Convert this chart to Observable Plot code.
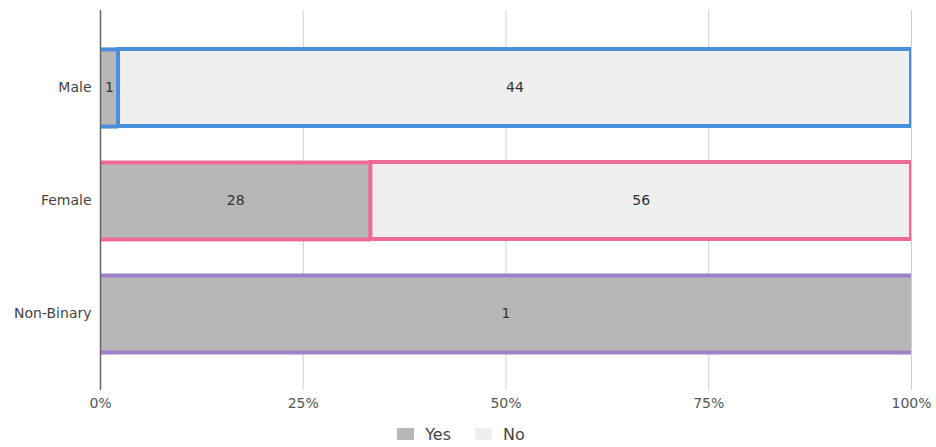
<!DOCTYPE html>
<html>
<head>
<meta charset="utf-8">
<script src="https://cdn.jsdelivr.net/npm/d3@7"></script>
<script src="https://cdn.jsdelivr.net/npm/@observablehq/plot@0.6"></script>
<style>
  body { margin: 0; background: #fff; font-family: "DejaVu Sans", sans-serif; }
  #chart svg { display: block; }
  .legend { display: flex; justify-content: center; gap: 24px; margin-top: 9px; padding-right: 14px;
            font-size: 16px; color: #444; height: 20px; align-items: center; }
  .legend span { display: inline-flex; align-items: center; gap: 11px; }
  .legend i { display: inline-block; width: 17px; height: 12px; }
</style>
</head>
<body>
<div id="chart"></div>
<script>
// Responses by gender
const genders = ["Male", "Female", "Non-Binary"];
const yesCounts = [1, 28, 1];
const noCounts = [44, 56, 0];
const outlineColors = ["#4a8fd9", "#ee6a9b", "#9e80c8"];
const answers = ["Yes", "No"];
const answerFills = ["#b7b7b7", "#efefef"];
const xTicks = [0, 0.25, 0.5, 0.75, 1];

const width = 936, height = 415;
const marginTop = 10, marginBottom = 25, marginLeft = 100, marginRight = 25;
const paddingInner = 0.32, paddingOuter = 0.334;
const outlineWidth = 4;

// Share of each answer per gender, as stacked intervals from 0 to 1
const rows = genders.map((g, i) => {
  const total = yesCounts[i] + noCounts[i];
  const yesShare = yesCounts[i] / total;
  return {gender: g, outline: outlineColors[i], yes: yesCounts[i], no: noCounts[i], yesShare};
});
const segments = rows.flatMap(r => [
  {gender: r.gender, answer: "Yes", value: r.yes, x1: 0, x2: r.yesShare, outline: r.outline},
  {gender: r.gender, answer: "No", value: r.no, x1: r.yesShare, x2: 1, outline: r.outline}
]).filter(d => d.value > 0);
const yesSegs = segments.filter(d => d.answer === "Yes");
const noSegs = segments.filter(d => d.answer === "No");

// Band geometry, used to put outline edges on the top and bottom of the "Yes" parts
const bandwidth = d3.scaleBand(genders, [marginTop, height - marginBottom])
  .paddingInner(paddingInner).paddingOuter(paddingOuter).bandwidth();

const plot = Plot.plot({
  width, height, marginTop, marginBottom, marginLeft, marginRight,
  style: {fontFamily: "DejaVu Sans, sans-serif", fontSize: "14px", color: "#555", background: "#fff"},
  x: {domain: [0, 1], label: null},
  y: {domain: genders, paddingInner, paddingOuter, label: null},
  color: {domain: answers, range: answerFills},
  marks: [
    Plot.gridX(xTicks, {stroke: "#cfcfcf", strokeOpacity: 1}),
    Plot.axisX(xTicks, {tickFormat: d3.format(".0%"), tickSize: 0, tickPadding: 8, fontSize: 14, fill: "#555", label: null}),
    Plot.axisY({tickSize: 0, tickPadding: 9, fontSize: 14, fill: "#444", label: null}),
    Plot.barX(yesSegs, {y: "gender", x1: "x1", x2: "x2", fill: d => d.answer}),
    Plot.ruleY(yesSegs, {y: "gender", x1: "x1", x2: "x2", stroke: "outline", strokeWidth: outlineWidth, dy: -bandwidth / 2}),
    Plot.ruleY(yesSegs, {y: "gender", x1: "x1", x2: "x2", stroke: "outline", strokeWidth: outlineWidth, dy: bandwidth / 2}),
    Plot.barX(noSegs, {y: "gender", x1: "x1", x2: "x2", fill: d => d.answer, stroke: "outline", strokeWidth: outlineWidth, clip: true}),
    Plot.text(segments, {y: "gender", x: d => (d.x1 + d.x2) / 2, text: "value", fontSize: 14, fill: "#333"}),
    Plot.ruleX([0], {stroke: "#666", strokeWidth: 1.5})
  ]
});
document.getElementById("chart").append(plot);

// Legend under the chart
const legend = document.createElement("div");
legend.className = "legend";
answers.forEach((a, i) => {
  const item = document.createElement("span");
  const sw = document.createElement("i");
  sw.style.background = answerFills[i];
  item.append(sw, document.createTextNode(a));
  legend.append(item);
});
document.getElementById("chart").append(legend);
</script>
</body>
</html>
